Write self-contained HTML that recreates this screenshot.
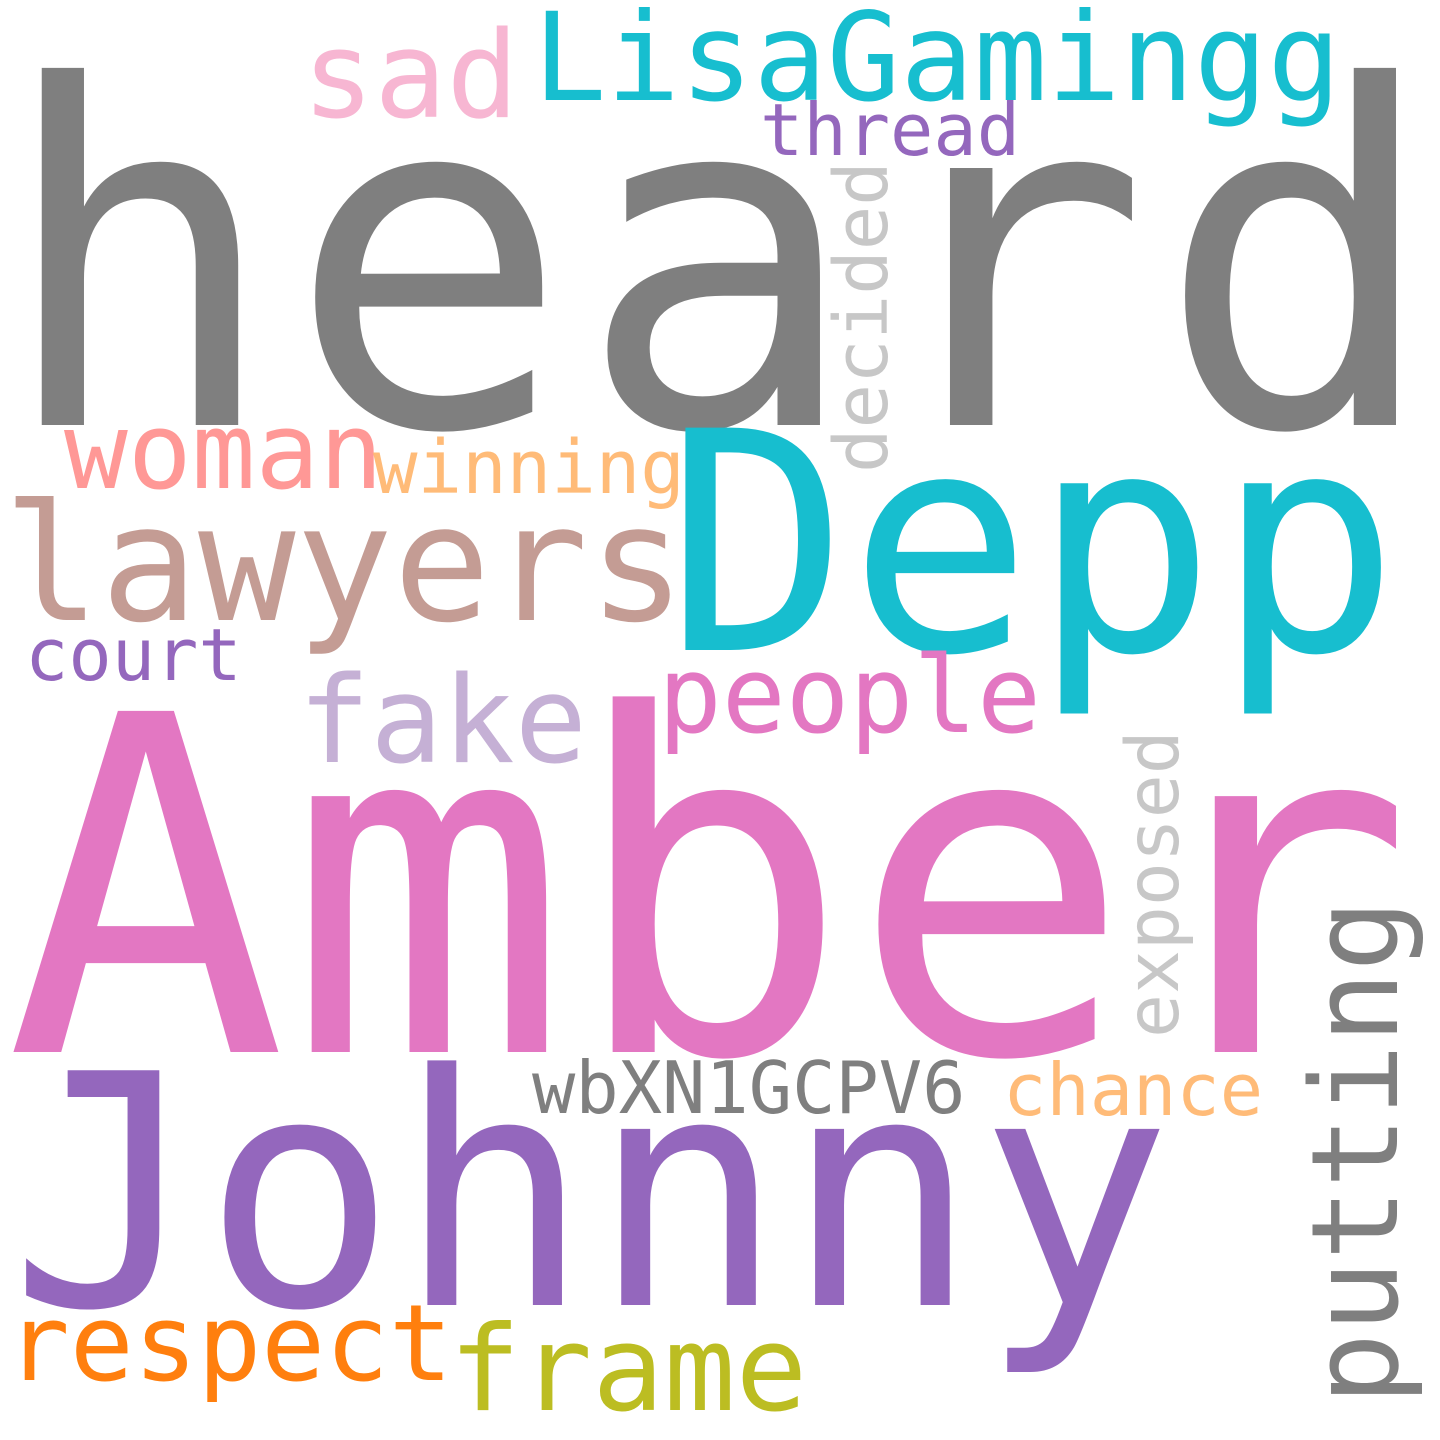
<!DOCTYPE html>
<html><head><meta charset="utf-8"><style>
html,body{margin:0;padding:0;background:#fff;}
svg{display:block;}
text{font-family:"DejaVu Sans Mono","Liberation Mono",monospace;}
</style></head><body>
<svg width="1440" height="1440" viewBox="0 0 1440 1440">
<rect width="1440" height="1440" fill="#fff"/>
<text x="-3" y="425" font-size="470" letter-spacing="7" fill="#7f7f7f">heard</text>
<text x="665" y="650" font-size="305" fill="#17becf">Depp</text>
<text x="5" y="1052" font-size="468" fill="#e377c2">Amber</text>
<text x="9" y="1305" font-size="322" fill="#9467bd">Johnny</text>
<text x="3" y="620" font-size="162" fill="#c49c94">lawyers</text>
<text x="64" y="488" font-size="106" fill="#ff9896">woman</text>
<text x="373" y="493" font-size="74" fill="#ffbb78">winning</text>
<text x="302" y="117" font-size="120" fill="#f7b6d2">sad</text>
<text x="533" y="100" font-size="122" fill="#17becf">LisaGamingg</text>
<text x="760" y="155" font-size="72" fill="#9467bd">thread</text>
<text transform="translate(887,473) rotate(-90)" font-size="74" fill="#c7c7c7">decided</text>
<text x="25" y="680" font-size="72" fill="#9467bd">court</text>
<text x="298" y="762" font-size="120" fill="#c5b0d5">fake</text>
<text x="658" y="732" font-size="106" fill="#e377c2">people</text>
<text transform="translate(1178,1038) rotate(-90)" font-size="73" fill="#c7c7c7">exposed</text>
<text transform="translate(1397,1405) rotate(-90)" font-size="120" fill="#7f7f7f">putting</text>
<text x="532" y="1113" font-size="72" fill="#7f7f7f">wbXN1GCPV6</text>
<text x="1003" y="1115" font-size="72" fill="#ffbb78">chance</text>
<text x="6" y="1380" font-size="106" fill="#ff7f0e">respect</text>
<text x="449" y="1410" font-size="119" fill="#bcbd22">frame</text>
</svg>
</body></html>
